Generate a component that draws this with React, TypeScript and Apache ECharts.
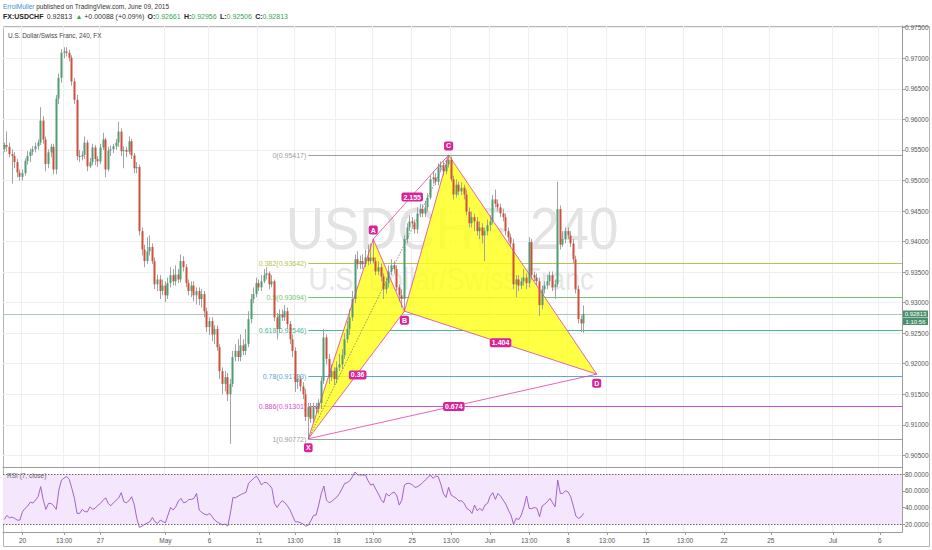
import React, { useEffect, useRef } from "react";
import * as echarts from "echarts";

const FONT = "'Liberation Sans', Arial, sans-serif";

// ---------- data ----------
const SLOT_COUNT = 346;
const TICK_INDEX = [7, 23, 37, 62, 79, 98, 112, 128, 142, 157, 172, 187, 202, 217, 232, 247, 262, 277, 295, 319, 337];
const TICK_TEXT = ["20", "13:00", "27", "May", "6", "11", "13:00", "18", "13:00", "25", "13:00", "Jun", "13:00", "8", "13:00", "15", "13:00", "22", "25", "Jul", "6"];
const PRICE_TICKS = [0.905, 0.91, 0.915, 0.92, 0.925, 0.93, 0.935, 0.94, 0.945, 0.95, 0.955, 0.96, 0.965, 0.97, 0.975];
const RSI_TICKS = [20, 40, 60, 80];

// [open, close, low, high]
const CANDLES: number[][] = [
  [0.9552, 0.9558, 0.9546, 0.9562], [0.9558, 0.9555, 0.9547, 0.958], [0.9555, 0.9543, 0.9538, 0.9562], [0.9543, 0.954, 0.9495, 0.9551],
  [0.954, 0.953, 0.952, 0.9546], [0.953, 0.9513, 0.9505, 0.9535], [0.9513, 0.9506, 0.95, 0.9518], [0.9506, 0.9512, 0.95, 0.9518],
  [0.9512, 0.9532, 0.9508, 0.9536], [0.9532, 0.954, 0.9526, 0.9548], [0.954, 0.9547, 0.953, 0.9552], [0.9547, 0.9551, 0.9541, 0.9556],
  [0.9551, 0.9556, 0.9546, 0.9562], [0.9556, 0.9562, 0.955, 0.9567], [0.9562, 0.9598, 0.9558, 0.962], [0.9598, 0.9567, 0.956, 0.9605],
  [0.9567, 0.9527, 0.9515, 0.9572], [0.9527, 0.9546, 0.952, 0.9551], [0.9546, 0.9555, 0.9538, 0.956], [0.9555, 0.9518, 0.951, 0.956],
  [0.9518, 0.9634, 0.951, 0.964], [0.9634, 0.9668, 0.9625, 0.9675], [0.9668, 0.9709, 0.966, 0.9715], [0.9709, 0.9711, 0.97, 0.9718],
  [0.9711, 0.9709, 0.9703, 0.9718], [0.9709, 0.9701, 0.9695, 0.9714], [0.9701, 0.9662, 0.9655, 0.9705], [0.9662, 0.9632, 0.9625, 0.9668],
  [0.9632, 0.954, 0.9533, 0.964], [0.954, 0.9539, 0.953, 0.955], [0.9539, 0.9542, 0.9533, 0.9548], [0.9542, 0.9562, 0.9535, 0.9572],
  [0.9562, 0.9523, 0.9515, 0.9566], [0.9523, 0.953, 0.952, 0.9537], [0.953, 0.9554, 0.9525, 0.956], [0.9554, 0.9535, 0.9525, 0.9558],
  [0.9535, 0.9531, 0.9522, 0.954], [0.9531, 0.9554, 0.9527, 0.956], [0.9554, 0.9567, 0.955, 0.9578], [0.9567, 0.9518, 0.9505, 0.957],
  [0.9518, 0.9549, 0.9515, 0.9555], [0.9549, 0.9551, 0.954, 0.9557], [0.9551, 0.9556, 0.9545, 0.956], [0.9556, 0.9562, 0.955, 0.9568],
  [0.9562, 0.958, 0.9555, 0.9596], [0.958, 0.9548, 0.954, 0.9585], [0.9548, 0.955, 0.952, 0.9556], [0.955, 0.9547, 0.9538, 0.9555],
  [0.9547, 0.9564, 0.9543, 0.9572], [0.9564, 0.9541, 0.9535, 0.9568], [0.9541, 0.952, 0.9512, 0.9545], [0.952, 0.9522, 0.9512, 0.953],
  [0.9522, 0.9417, 0.941, 0.9526], [0.9417, 0.9387, 0.9377, 0.9423], [0.9387, 0.9368, 0.9358, 0.9395], [0.9368, 0.9384, 0.9363, 0.9407],
  [0.9384, 0.9391, 0.9377, 0.941], [0.9391, 0.9368, 0.9363, 0.9397], [0.9368, 0.933, 0.9322, 0.9374], [0.933, 0.9338, 0.9319, 0.9346],
  [0.9338, 0.9319, 0.9306, 0.9345], [0.9319, 0.9328, 0.9312, 0.9338], [0.9328, 0.9312, 0.9301, 0.9335], [0.9312, 0.9332, 0.9306, 0.9341],
  [0.9332, 0.9345, 0.9325, 0.9358], [0.9345, 0.9335, 0.9328, 0.9355], [0.9335, 0.9346, 0.9328, 0.9361], [0.9346, 0.9338, 0.9332, 0.9355],
  [0.9338, 0.9368, 0.9333, 0.9379], [0.9368, 0.9358, 0.9351, 0.9376], [0.9358, 0.9332, 0.9325, 0.9363], [0.9332, 0.9319, 0.9312, 0.9338],
  [0.9319, 0.9328, 0.9309, 0.9335], [0.9328, 0.9312, 0.9302, 0.9335], [0.9312, 0.9319, 0.9297, 0.9325], [0.9319, 0.9306, 0.9296, 0.9325],
  [0.9306, 0.9314, 0.9292, 0.9322], [0.9314, 0.9286, 0.9276, 0.9319], [0.9286, 0.926, 0.9252, 0.9292], [0.926, 0.927, 0.9247, 0.9276],
  [0.927, 0.9248, 0.9237, 0.9276], [0.9248, 0.9257, 0.9232, 0.9263], [0.9257, 0.9227, 0.9221, 0.9263], [0.9227, 0.9188, 0.9175, 0.9232],
  [0.9188, 0.9167, 0.915, 0.9194], [0.9167, 0.9178, 0.9155, 0.9188], [0.9178, 0.915, 0.9139, 0.9185], [0.915, 0.9167, 0.9069, 0.9175],
  [0.9167, 0.9211, 0.9162, 0.9221], [0.9211, 0.9221, 0.9204, 0.9232], [0.9221, 0.9211, 0.9204, 0.924], [0.9211, 0.923, 0.9204, 0.9248],
  [0.923, 0.9221, 0.9214, 0.924], [0.9221, 0.9232, 0.9214, 0.9257], [0.9232, 0.9273, 0.9227, 0.9286], [0.9273, 0.9306, 0.9266, 0.9314],
  [0.9306, 0.9314, 0.9299, 0.9325], [0.9314, 0.9332, 0.9309, 0.9341], [0.9332, 0.9325, 0.9319, 0.9338], [0.9325, 0.9335, 0.9319, 0.9345],
  [0.9335, 0.9345, 0.9332, 0.9355], [0.9345, 0.9348, 0.9338, 0.9358], [0.9348, 0.933, 0.9322, 0.9351], [0.933, 0.9335, 0.9325, 0.9345],
  [0.9335, 0.9276, 0.927, 0.9338], [0.9276, 0.9257, 0.924, 0.9283], [0.9257, 0.9281, 0.925, 0.9289], [0.9281, 0.9276, 0.927, 0.9289],
  [0.9276, 0.9286, 0.927, 0.9296], [0.9286, 0.9265, 0.9257, 0.9292], [0.9265, 0.924, 0.9232, 0.927], [0.924, 0.9221, 0.9211, 0.9248],
  [0.9221, 0.917, 0.9154, 0.9227], [0.917, 0.9175, 0.9159, 0.9183], [0.9175, 0.9163, 0.9155, 0.9181], [0.9163, 0.915, 0.9142, 0.917],
  [0.915, 0.9113, 0.9106, 0.9159], [0.9113, 0.9129, 0.90772, 0.9136], [0.9129, 0.911, 0.9103, 0.9136], [0.911, 0.9129, 0.9103, 0.9136],
  [0.9129, 0.9126, 0.9119, 0.9136], [0.9126, 0.9136, 0.9119, 0.9142], [0.9136, 0.9172, 0.9126, 0.9178], [0.9172, 0.9243, 0.9167, 0.9257],
  [0.9243, 0.9208, 0.9199, 0.9248], [0.9208, 0.9178, 0.9167, 0.9216], [0.9178, 0.9188, 0.9172, 0.9199], [0.9188, 0.9175, 0.9165, 0.9194],
  [0.9175, 0.9194, 0.9168, 0.9204], [0.9194, 0.9199, 0.9188, 0.9216], [0.9199, 0.9214, 0.9191, 0.9224], [0.9214, 0.924, 0.9208, 0.925],
  [0.924, 0.9257, 0.9234, 0.927], [0.9257, 0.9276, 0.9247, 0.9289], [0.9276, 0.9306, 0.927, 0.9319], [0.9306, 0.9371, 0.9299, 0.9379],
  [0.9371, 0.9363, 0.9355, 0.9384], [0.9363, 0.9368, 0.9355, 0.9377], [0.9368, 0.9363, 0.9355, 0.9379], [0.9363, 0.9374, 0.9358, 0.9387],
  [0.9374, 0.9368, 0.9361, 0.9395], [0.9368, 0.9374, 0.9363, 0.9397], [0.9374, 0.9368, 0.9364, 0.9404], [0.9368, 0.9351, 0.9345, 0.9374],
  [0.9351, 0.9358, 0.9345, 0.9368], [0.9358, 0.9343, 0.9335, 0.9364], [0.9343, 0.9322, 0.9306, 0.9348], [0.9322, 0.9332, 0.9315, 0.9341],
  [0.9332, 0.9351, 0.9325, 0.9361], [0.9351, 0.9361, 0.9345, 0.9371], [0.9361, 0.9355, 0.9348, 0.9368], [0.9355, 0.9325, 0.9319, 0.9361],
  [0.9325, 0.9312, 0.9302, 0.933], [0.9312, 0.9306, 0.9292, 0.9322], [0.9306, 0.9404, 0.9286, 0.941], [0.9404, 0.9423, 0.9397, 0.943],
  [0.9423, 0.9433, 0.9417, 0.9443], [0.9433, 0.943, 0.9423, 0.944], [0.943, 0.942, 0.9413, 0.9436], [0.942, 0.9446, 0.9413, 0.9456],
  [0.9446, 0.9453, 0.944, 0.9462], [0.9453, 0.9446, 0.944, 0.9461], [0.9446, 0.9456, 0.944, 0.9466], [0.9456, 0.9472, 0.9449, 0.9479],
  [0.9472, 0.9502, 0.9469, 0.9508], [0.9502, 0.9505, 0.9495, 0.9515], [0.9505, 0.9498, 0.9492, 0.9512], [0.9498, 0.9521, 0.9492, 0.9528],
  [0.9521, 0.9525, 0.9515, 0.9531], [0.9525, 0.9515, 0.9508, 0.9531], [0.9515, 0.9526, 0.951, 0.9534], [0.9526, 0.9534, 0.9521, 0.95417],
  [0.9534, 0.9502, 0.9498, 0.9539], [0.9502, 0.9477, 0.9469, 0.9508], [0.9477, 0.9493, 0.9472, 0.9502], [0.9493, 0.9482, 0.9476, 0.9498],
  [0.9482, 0.9488, 0.9476, 0.9497], [0.9488, 0.9477, 0.9469, 0.9493], [0.9477, 0.9449, 0.9443, 0.9485], [0.9449, 0.943, 0.9423, 0.9456],
  [0.943, 0.944, 0.9423, 0.9449], [0.944, 0.9433, 0.9417, 0.9446], [0.9433, 0.9417, 0.941, 0.944], [0.9417, 0.9423, 0.9404, 0.9433],
  [0.9423, 0.941, 0.9397, 0.943], [0.941, 0.9417, 0.9368, 0.9423], [0.9417, 0.9427, 0.941, 0.9436], [0.9427, 0.9433, 0.9417, 0.9443],
  [0.9433, 0.9469, 0.9428, 0.9476], [0.9469, 0.9462, 0.9456, 0.9485], [0.9462, 0.9456, 0.9449, 0.9469], [0.9456, 0.9446, 0.944, 0.9462],
  [0.9446, 0.944, 0.9433, 0.9453], [0.944, 0.9417, 0.941, 0.9446], [0.9417, 0.9407, 0.94, 0.9423], [0.9407, 0.9397, 0.9391, 0.9413],
  [0.9397, 0.933, 0.9322, 0.9404], [0.933, 0.9338, 0.9309, 0.9345], [0.9338, 0.9328, 0.9319, 0.9345], [0.9328, 0.9335, 0.9322, 0.9341],
  [0.9335, 0.9341, 0.9328, 0.9355], [0.9341, 0.9332, 0.9322, 0.9348], [0.9332, 0.9399, 0.9325, 0.9407], [0.9399, 0.9345, 0.9338, 0.9404],
  [0.9345, 0.9341, 0.9335, 0.9351], [0.9341, 0.9335, 0.9328, 0.9348], [0.9335, 0.9296, 0.9278, 0.9341], [0.9296, 0.9322, 0.9289, 0.9328],
  [0.9322, 0.9328, 0.9315, 0.9335], [0.9328, 0.9335, 0.9322, 0.9345], [0.9335, 0.9345, 0.9328, 0.9351], [0.9345, 0.9325, 0.9319, 0.9351],
  [0.9325, 0.933, 0.9306, 0.9338], [0.933, 0.9453, 0.9325, 0.9498], [0.9453, 0.9395, 0.9387, 0.9459], [0.9395, 0.9404, 0.9391, 0.9417],
  [0.9404, 0.9417, 0.9397, 0.9423], [0.9417, 0.941, 0.9404, 0.9423], [0.941, 0.9397, 0.9391, 0.9417], [0.9397, 0.9371, 0.9364, 0.9404],
  [0.9371, 0.9322, 0.9315, 0.9377], [0.9322, 0.9273, 0.9266, 0.9328], [0.9273, 0.92661, 0.9252, 0.9279], [0.92661, 0.92813, 0.92506, 0.92956],
];

const RSI: number[] = [
  25.7, 30.6, 27.7, 28.5, 26.9, 24.9, 24.9, 35, 39, 41.8,
  46.6, 45.4, 49, 53, 65.1, 49, 37.8, 45, 45, 42.2,
  37.8, 61, 73, 75.5, 77.2, 73.9, 63, 51, 33, 33,
  37.8, 35, 35, 41, 37.8, 39.4, 42.6, 45, 48.6, 51.8,
  45, 42.2, 45.8, 48.6, 51.4, 57.9, 47, 45.8, 48.2, 53,
  43.8, 26.9, 16.1, 17.7, 19.7, 21.3, 22.9, 28.1, 22.9, 20.9,
  24.9, 23.3, 21.7, 31, 40.2, 37, 41, 47.8, 51, 45.8,
  46.6, 49.8, 49.8, 51, 57, 37, 34.2, 32.2, 31, 33,
  29, 24.9, 22.5, 20.9, 19.3, 20.1, 17.7, 33, 52.2, 51.8,
  53.8, 55.5, 57, 58.3, 69.1, 72.3, 75.1, 77.9, 73.1, 67.1,
  70.3, 69.9, 67.1, 63.1, 45, 40.2, 45, 48.2, 45.8, 41.8,
  37, 29.8, 22.9, 22.9, 21.7, 20.1, 17.7, 18.9, 24.1, 30.6,
  31, 43, 57, 65.9, 49, 45.8, 47.4, 50.2, 52.6, 57,
  62.7, 69.1, 69.9, 72.3, 77.2, 82.8, 79.2, 79.2, 79.2, 79.2,
  72.3, 67.1, 68.3, 61.9, 56.3, 49.8, 45.8, 57, 53.8, 57,
  58.7, 55, 43, 49, 67.1, 69.1, 69.1, 67.5, 64.3, 65.1,
  67.1, 69.9, 73.1, 75.9, 79.2, 75.1, 77.9, 77.2, 68.3, 57,
  52.2, 64.3, 55, 53, 51, 47.8, 48.2, 45, 39, 37,
  33, 43, 36.2, 39, 36.2, 43, 45, 53.8, 57.9, 49.8,
  57, 53.8, 49, 44.2, 37, 31, 20.1, 27, 25.7, 31,
  41, 53.8, 39, 38.6, 40.2, 39, 29, 41.8, 44.2, 47,
  51, 45.8, 41, 73.1, 57, 57, 60.3, 58.7, 53, 41.8,
  29.8, 27, 28.9, 33,
];

const LAST_PRICE = 0.92813;
const LAST_OPEN = 0.92661;
const LAST_HIGH = 0.92956;
const LAST_LOW = 0.92506;
const CHANGE = "+0.00088";
const CHANGE_PCT = "(+0.09%)";
const COUNTDOWN = "1:10:56";

const FIB_RATIO = ["0", "0.382", "0.5", "0.618", "0.78", "0.886", "1"];
const FIB_PRICE = [0.95417, 0.93642, 0.93094, 0.92546, 0.91793, 0.91301, 0.90772];

const PATTERN_NAME = ["X", "A", "B", "C", "D"];
const PATTERN_INDEX = [117, 142, 154, 171, 228];
const PATTERN_PRICE = [0.90772, 0.9404, 0.9286, 0.95417, 0.9183];
const RATIO_TEXT = ["0.36", "2.155", "1.404", "0.674"];
const RATIO_PAIRS = [[0, 2], [1, 3], [2, 4], [0, 4]];
const EDGE_PAIRS = [[0, 1], [1, 2], [2, 3], [3, 4], [0, 2], [2, 4], [1, 3], [0, 4]];
const DOTTED_PAIRS = [[0, 3]];
const TRIANGLES = [[0, 1, 2], [2, 3, 4]];

// ---------- styles ----------
const UP = "#4f9d74";
const DOWN = "#cf4f3a";
const WICK = "#a3a3a3";
const GRID_C = "#efefef";
const AXIS_C = "#9c9c9c";
const LABEL_C = "#555555";
const PINK = "#e03fa8";
const LABEL_BG = "#d8239a";
const FIB_COLOR = ["#9e9e9e", "#b9c24d", "#72c472", "#48b59d", "#5aa6d4", "#d44fcb", "#9e9e9e"];
const LABEL_BELOW = [true, false, true, false, true];

export default function App() {
  const ref = useRef<HTMLDivElement>(null);

  useEffect(() => {
    if (!ref.current) return;
    const chart = echarts.init(ref.current, null, { renderer: "svg" });

    const categories = Array.from({ length: SLOT_COUNT }, (_, i) => String(i));
    const isTick = (i: number) => TICK_INDEX.indexOf(i) >= 0;
    const tickText = (i: number) => {
      const k = TICK_INDEX.indexOf(i);
      return k >= 0 ? TICK_TEXT[k] : "";
    };

    const candleData = CANDLES.map((c, i) => [i, c[0], c[1], c[2], c[3]]);
    const fibData = FIB_PRICE.map((p, k) => [PATTERN_INDEX[0], p, k]);
    const triData = TRIANGLES.map((t) => [
      PATTERN_INDEX[t[0]], PATTERN_PRICE[t[0]],
      PATTERN_INDEX[t[1]], PATTERN_PRICE[t[1]],
      PATTERN_INDEX[t[2]], PATTERN_PRICE[t[2]],
    ]);
    const edgeData = EDGE_PAIRS.map((e) => [PATTERN_INDEX[e[0]], PATTERN_PRICE[e[0]], PATTERN_INDEX[e[1]], PATTERN_PRICE[e[1]]]);
    const dottedData = DOTTED_PAIRS.map((e) => [PATTERN_INDEX[e[0]], PATTERN_PRICE[e[0]], PATTERN_INDEX[e[1]], PATTERN_PRICE[e[1]]]);
    const ratioData = RATIO_PAIRS.map((e, k) => [
      (PATTERN_INDEX[e[0]] + PATTERN_INDEX[e[1]]) / 2,
      (PATTERN_PRICE[e[0]] + PATTERN_PRICE[e[1]]) / 2,
      k,
    ]);
    const pointData = PATTERN_NAME.map((_, k) => [PATTERN_INDEX[k], PATTERN_PRICE[k], k]);

    const option: any = {
      animation: false,
      backgroundColor: "#ffffff",
      grid: [
        { left: 3, top: 26, width: 899, height: 441 },
        { left: 3, top: 467, width: 899, height: 65 },
      ],
      xAxis: [
        {
          type: "category", gridIndex: 0, data: categories, boundaryGap: true,
          axisLine: { show: true, lineStyle: { color: AXIS_C, width: 1 } },
          axisTick: { show: false }, axisLabel: { show: false },
          splitLine: { show: true, interval: (i: number) => isTick(i), lineStyle: { color: GRID_C, width: 1 } },
        },
        {
          type: "category", gridIndex: 1, data: categories, boundaryGap: true,
          axisLine: { show: true, lineStyle: { color: AXIS_C, width: 1 } },
          axisTick: { show: true, alignWithLabel: true, interval: (i: number) => isTick(i), length: 3, lineStyle: { color: AXIS_C } },
          axisLabel: {
            show: true, interval: (i: number) => isTick(i),
            formatter: (_v: string, i: number) => tickText(i),
            color: LABEL_C, fontSize: 6.5, fontFamily: FONT, margin: 5,
          },
          splitLine: { show: true, interval: (i: number) => isTick(i), lineStyle: { color: GRID_C, width: 1 } },
        },
      ],
      yAxis: [
        {
          type: "value", gridIndex: 0, position: "right", min: 0.9031, max: 0.97528, scale: true,
          axisLine: { show: true, lineStyle: { color: AXIS_C } },
          axisTick: { show: true, length: 3, inside: false, customValues: PRICE_TICKS, lineStyle: { color: AXIS_C } },
          axisLabel: {
            customValues: PRICE_TICKS, formatter: (v: number) => v.toFixed(5),
            color: LABEL_C, fontSize: 6.5, fontFamily: FONT, margin: 3,
          },
          splitLine: { show: true, lineStyle: { color: GRID_C, width: 1 } },
        },
        {
          type: "value", gridIndex: 1, position: "right", min: 10.62, max: 88.78,
          axisLine: { show: true, lineStyle: { color: AXIS_C } },
          axisTick: { show: true, length: 3, customValues: RSI_TICKS, lineStyle: { color: AXIS_C } },
          axisLabel: {
            customValues: RSI_TICKS, formatter: (v: number) => v.toFixed(4),
            color: LABEL_C, fontSize: 6.5, fontFamily: FONT, margin: 3,
          },
          splitLine: { show: false },
        },
      ],
      graphic: [
        {
          type: "rect", silent: true, z: -10,
          shape: { x: 3.5, y: 26.5, width: 926, height: 520 },
          style: { fill: "none", stroke: "#b4b4b4", lineWidth: 1 },
        },
        {
          type: "text", x: 452, y: 228, z: 1, silent: true, scaleY: 1.12,
          style: { text: "USDCHF, 240", font: `53px ${FONT}`, fill: "#e3e3e3", align: "center", verticalAlign: "middle" },
        },
        {
          type: "text", x: 451, y: 279, z: 1, silent: true, scaleY: 1.15,
          style: { text: "U.S. Dollar/Swiss Franc", font: `27px ${FONT}`, fill: "#e6e6e6", align: "center", verticalAlign: "middle" },
        },
        {
          type: "text", x: 3, y: 6.5, z: 10,
          style: {
            text: "{a|ErrolMuller}{b| published on TradingView.com, June 09, 2015}",
            verticalAlign: "middle",
            rich: {
              a: { fill: "#3b8fd0", font: `6.5px ${FONT}` },
              b: { fill: "#333333", font: `6.5px ${FONT}` },
            },
          },
        },
        {
          type: "text", x: 3, y: 16.5, z: 10,
          style: {
            text: `{k|FX:USDCHF} {v|${LAST_PRICE.toFixed(5)}} {g|▲}{v| ${CHANGE} ${CHANGE_PCT}} {k|O:}{g|${LAST_OPEN.toFixed(5)}} {k|H:}{g|${LAST_HIGH.toFixed(5)}} {k|L:}{g|${LAST_LOW.toFixed(5)}} {k|C:}{g|${LAST_PRICE.toFixed(5)}}`,
            verticalAlign: "middle",
            rich: {
              k: { fill: "#222222", font: `bold 7px ${FONT}` },
              v: { fill: "#333333", font: `7px ${FONT}` },
              g: { fill: "#3aa455", font: `7px ${FONT}` },
            },
          },
        },
        {
          type: "text", x: 8, y: 35.5, z: 10,
          style: { text: "U.S. Dollar/Swiss Franc, 240, FX", font: `6.4px ${FONT}`, fill: "#444444", verticalAlign: "middle" },
        },
        {
          type: "text", x: 7, y: 475.5, z: 10,
          style: { text: "RSI (7, close)", font: `6.5px ${FONT}`, fill: "#666666", verticalAlign: "middle" },
        },
      ],
      series: [
        {
          type: "custom", name: "fib", xAxisIndex: 0, yAxisIndex: 0, z: 2,
          data: fibData, encode: { x: 0, y: 1 },
          renderItem: (params: any, api: any) => {
            const k = api.value(2);
            const s = api.coord([api.value(0), api.value(1)]);
            const cs = params.coordSys;
            const y = Math.round(s[1]) + 0.5;
            return {
              type: "group",
              children: [
                { type: "line", shape: { x1: s[0], y1: y, x2: cs.x + cs.width, y2: y }, style: { stroke: FIB_COLOR[k], lineWidth: 1 } },
                {
                  type: "text", x: s[0] - 2, y: y,
                  style: {
                    text: `${FIB_RATIO[k]}(${FIB_PRICE[k].toFixed(5)})`,
                    fill: FIB_COLOR[k], font: `7px ${FONT}`, align: "right", verticalAlign: "middle",
                  },
                },
              ],
            };
          },
        },
        {
          type: "custom", name: "lastPrice", xAxisIndex: 0, yAxisIndex: 0, z: 2, clip: false,
          data: [[0, LAST_PRICE]], encode: { x: 0, y: 1 },
          renderItem: (params: any, api: any) => {
            const p = api.coord([0, api.value(1)]);
            const cs = params.coordSys;
            const y = Math.round(p[1]) + 0.5;
            const bx = cs.x + cs.width + 1;
            return {
              type: "group",
              children: [
                { type: "line", shape: { x1: cs.x, y1: y, x2: cs.x + cs.width, y2: y }, style: { stroke: "#a9c9b6", lineWidth: 1 } },
                { type: "rect", shape: { x: bx, y: y - 4, width: 25, height: 7 }, style: { fill: "#4a8f6d" } },
                { type: "text", x: bx + 12.5, y: y - 0.5, style: { text: LAST_PRICE.toFixed(5), fill: "#ffffff", font: `6px ${FONT}`, align: "center", verticalAlign: "middle" } },
                { type: "rect", shape: { x: bx, y: y + 3.5, width: 25, height: 7 }, style: { fill: "#4a8f6d" } },
                { type: "text", x: bx + 12.5, y: y + 7, style: { text: COUNTDOWN, fill: "#ffffff", font: `6px ${FONT}`, align: "center", verticalAlign: "middle" } },
              ],
            };
          },
        },
        {
          type: "custom", name: "triangles", xAxisIndex: 0, yAxisIndex: 0, z: 2,
          data: triData, encode: { x: [0, 2, 4], y: [1, 3, 5] },
          renderItem: (_params: any, api: any) => {
            const pts = [
              api.coord([api.value(0), api.value(1)]),
              api.coord([api.value(2), api.value(3)]),
              api.coord([api.value(4), api.value(5)]),
            ];
            return { type: "polygon", shape: { points: pts }, style: { fill: "rgba(255,255,20,0.8)" } };
          },
        },
        {
          type: "custom", name: "candles", xAxisIndex: 0, yAxisIndex: 0, z: 3,
          data: candleData, encode: { x: 0, y: [1, 2, 3, 4] },
          renderItem: (_params: any, api: any) => {
            const i = api.value(0);
            const o = api.value(1), c = api.value(2), l = api.value(3), h = api.value(4);
            const po = api.coord([i, o]);
            const pc = api.coord([i, c]);
            const pl = api.coord([i, l]);
            const ph = api.coord([i, h]);
            const x = Math.floor(po[0]) + 0.5;
            const up = c >= o;
            const top = Math.min(po[1], pc[1]);
            const hgt = Math.max(1, Math.abs(po[1] - pc[1]));
            return {
              type: "group",
              children: [
                { type: "line", shape: { x1: x, y1: ph[1], x2: x, y2: pl[1] }, style: { stroke: WICK, lineWidth: 1 } },
                { type: "rect", shape: { x: x - 1, y: top, width: 2, height: hgt }, style: { fill: up ? UP : DOWN } },
              ],
            };
          },
        },
        {
          type: "custom", name: "edges", xAxisIndex: 0, yAxisIndex: 0, z: 4,
          data: edgeData, encode: { x: [0, 2], y: [1, 3] },
          renderItem: (_params: any, api: any) => {
            const a = api.coord([api.value(0), api.value(1)]);
            const b = api.coord([api.value(2), api.value(3)]);
            return { type: "line", shape: { x1: a[0], y1: a[1], x2: b[0], y2: b[1] }, style: { stroke: PINK, lineWidth: 0.8 } };
          },
        },
        {
          type: "custom", name: "dotted", xAxisIndex: 0, yAxisIndex: 0, z: 4,
          data: dottedData, encode: { x: [0, 2], y: [1, 3] },
          renderItem: (_params: any, api: any) => {
            const a = api.coord([api.value(0), api.value(1)]);
            const b = api.coord([api.value(2), api.value(3)]);
            return { type: "line", shape: { x1: a[0], y1: a[1], x2: b[0], y2: b[1] }, style: { stroke: "#777777", lineWidth: 0.8, lineDash: [1.5, 1.5] } };
          },
        },
        {
          type: "custom", name: "ratios", xAxisIndex: 0, yAxisIndex: 0, z: 5,
          data: ratioData, encode: { x: 0, y: 1 },
          renderItem: (_params: any, api: any) => {
            const p = api.coord([api.value(0), api.value(1)]);
            const k = api.value(2);
            return {
              type: "text", x: p[0], y: p[1],
              style: {
                text: RATIO_TEXT[k], fill: "#ffffff", font: `bold 7px ${FONT}`, align: "center", verticalAlign: "middle",
                backgroundColor: LABEL_BG, padding: [1, 2, 1, 2], borderRadius: 2,
              },
            };
          },
        },
        {
          type: "custom", name: "points", xAxisIndex: 0, yAxisIndex: 0, z: 5,
          data: pointData, encode: { x: 0, y: 1 },
          renderItem: (_params: any, api: any) => {
            const p = api.coord([api.value(0), api.value(1)]);
            const k = api.value(2);
            const dy = LABEL_BELOW[k] ? 9 : -9;
            return {
              type: "text", x: p[0], y: p[1] + dy,
              style: {
                text: PATTERN_NAME[k], fill: "#ffffff", font: `bold 7px ${FONT}`, align: "center", verticalAlign: "middle",
                backgroundColor: LABEL_BG, padding: [1, 2, 1, 2], borderRadius: 2,
              },
            };
          },
        },
        {
          type: "line", name: "RSI", xAxisIndex: 1, yAxisIndex: 1, z: 3,
          data: RSI, showSymbol: false, symbol: "none", clip: true,
          lineStyle: { color: "#9a56c2", width: 0.9 },
          markArea: {
            silent: true,
            itemStyle: { color: "#f4e6fc" },
            data: [[{ yAxis: 20 }, { yAxis: 80 }]],
          },
          markLine: {
            silent: true, symbol: "none", label: { show: false },
            lineStyle: { color: "#666666", type: [1.5, 1.5], width: 1 },
            data: [{ yAxis: 20 }, { yAxis: 80 }],
          },
        },
      ],
    };

    chart.setOption(option);
    return () => chart.dispose();
  }, []);

  return <div ref={ref} style={{ width: 932, height: 550, position: "absolute", left: 0, top: 0 }} />;
}
